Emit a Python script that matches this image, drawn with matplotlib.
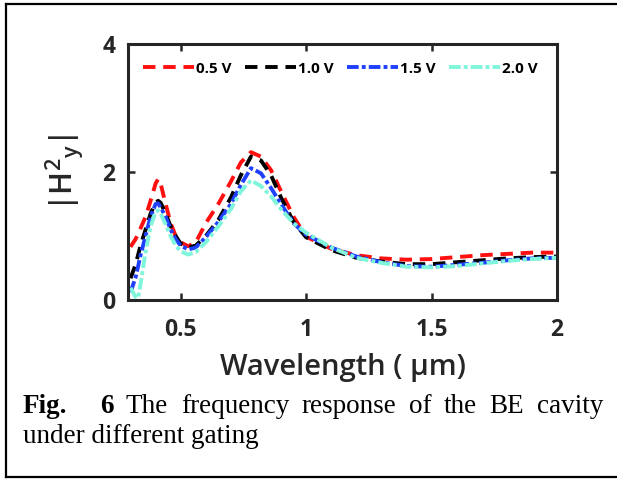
import matplotlib
matplotlib.use('Agg')
import matplotlib.pyplot as plt
from matplotlib.lines import Line2D

# wavelength in um
wavelength = [0.30, 0.32, 0.33, 0.34, 0.36, 0.38, 0.40, 0.41, 0.42, 0.44, 0.46, 0.48,
              0.50, 0.53, 0.56, 0.60, 0.65, 0.70, 0.74, 0.78, 0.82, 0.86, 0.90,
              0.95, 1.00, 1.10, 1.20, 1.30, 1.40, 1.50, 1.60, 1.70, 1.80, 1.90, 2.00]

h_05 = [0.83, 0.95, 1.03, 1.12, 1.30, 1.55, 1.82, 1.89, 1.82, 1.50, 1.20, 1.00,
        0.90, 0.84, 0.90, 1.20, 1.50, 1.85, 2.15, 2.31, 2.24, 2.03, 1.70,
        1.30, 0.99, 0.80, 0.70, 0.65, 0.63, 0.64, 0.67, 0.70, 0.72, 0.74, 0.74]
h_10 = [0.34, 0.55, 0.70, 0.85, 1.10, 1.35, 1.52, 1.55, 1.52, 1.35, 1.15, 1.00,
        0.88, 0.82, 0.85, 1.00, 1.25, 1.60, 1.95, 2.24, 2.18, 1.95, 1.60,
        1.22, 0.98, 0.78, 0.66, 0.60, 0.56, 0.56, 0.59, 0.62, 0.65, 0.67, 0.68]
h_15 = [0.12, 0.35, 0.52, 0.70, 1.00, 1.30, 1.50, 1.51, 1.45, 1.30, 1.10, 0.95,
        0.85, 0.79, 0.82, 0.98, 1.22, 1.50, 1.80, 2.06, 1.98, 1.75, 1.50,
        1.20, 1.02, 0.82, 0.68, 0.59, 0.53, 0.52, 0.55, 0.58, 0.62, 0.65, 0.66]
h_20 = [0.19, 0.05, 0.03, 0.25, 0.75, 1.15, 1.38, 1.40, 1.35, 1.18, 1.00, 0.85,
        0.76, 0.71, 0.75, 0.90, 1.15, 1.42, 1.70, 1.87, 1.78, 1.62, 1.42,
        1.20, 1.05, 0.82, 0.66, 0.58, 0.52, 0.51, 0.53, 0.57, 0.61, 0.64, 0.66]

labels = ['0.5 V', '1.0 V', '1.5 V', '2.0 V']
colors = ['#ff1010', '#000000', '#2040ff', '#7ff5dc']
styles = [(0, (3.2, 2.0)), (0, (3.2, 2.0)), (0, (3, 0.8, 1, 0.8)), (0, (3, 0.8, 1, 0.8))]

x_ticks = [0.5, 1, 1.5, 2]
x_tick_labels = ['0.5', '1', '1.5', '2']
y_ticks = [0, 2, 4]

W, H = 617, 479
DARK = '#262626'
font = 'Open Sans'

plt.rcParams['mathtext.fontset'] = 'custom'
plt.rcParams['mathtext.rm'] = 'Open Sans:semibold'

fig = plt.figure(figsize=(W / 100, H / 100), dpi=100)
ax = fig.add_axes([128 / W, 1 - 300 / H, 429 / W, 256 / H])

series = [h_05, h_10, h_15, h_20]
for vals, c, ls in zip(series, colors, styles):
    ax.plot(wavelength, vals, color=c, linestyle=ls, lw=2.8)

ax.set_xlim(0.29, 2.0)
ax.set_ylim(0, 4)
ax.set_xticks(x_ticks)
ax.set_xticklabels(x_tick_labels)
ax.set_yticks(y_ticks)

ax.tick_params(direction='in', length=5, width=1.8, color=DARK, top=True, right=True,
               labelsize=16.5, labelcolor=DARK)
ax.tick_params(axis='x', pad=13)
ax.tick_params(axis='y', pad=9)
for lab in ax.get_xticklabels() + ax.get_yticklabels():
    lab.set_fontfamily(font)
    lab.set_fontweight('bold')
for sp in ax.spines.values():
    sp.set_linewidth(2.2)
    sp.set_color(DARK)

ax.set_xlabel('Wavelength ( \u00b5m)', fontsize=21, family=font, fontweight='semibold',
              color=DARK, labelpad=8)
ax.set_ylabel(r'$|\mathrm{H}^{2}{}_{\mathrm{y}}|$', fontsize=22, color=DARK, labelpad=12)

handles = [Line2D([], [], color=c, linestyle=ls, lw=2.8) for c, ls in zip(colors, styles)]
ax.legend(handles, labels, loc='upper center', ncol=4, frameon=False,
          bbox_to_anchor=(0.495, 0.985), handlelength=3.3, handletextpad=0.15,
          columnspacing=0.9, prop={'family': font, 'weight': 'bold', 'size': 11})

# outer frame
frame_kw = dict(color='black', lw=1.6, transform=fig.transFigure)
fig.add_artist(Line2D([6 / W, 6 / W], [1 - 4 / H, 1 - 477 / H], **frame_kw))
fig.add_artist(Line2D([6 / W, 1], [1 - 4 / H, 1 - 4 / H], **frame_kw))
fig.add_artist(Line2D([6 / W, 1], [1 - 477 / H, 1 - 477 / H], **frame_kw))

# caption, first line justified between x=23 and x=603
cap_size = 19.5
words1 = [('Fig.', 'bold'), ('6', 'bold'), ('The', 'normal'), ('frequency', 'normal'),
          ('response', 'normal'), ('of', 'normal'), ('the', 'normal'), ('BE', 'normal'),
          ('cavity', 'normal')]
fig.canvas.draw()
renderer = fig.canvas.get_renderer()
texts = []
for w, wt in words1:
    t = fig.text(0, 1 - 413 / H, w, fontsize=cap_size, family='Liberation Serif',
                 fontweight=wt, color='black', va='baseline')
    texts.append(t)
widths = [t.get_window_extent(renderer).width for t in texts]
left, right = 23, 603
gap_weights = [2.6] + [1] * (len(texts) - 2)
gap = (right - left - sum(widths)) / sum(gap_weights)
x = left
for i, t in enumerate(texts):
    t.set_x(x / W)
    if i < len(gap_weights):
        x += widths[i] + gap * gap_weights[i]
fig.text(23 / W, 1 - 443 / H, 'under different gating', fontsize=cap_size,
         family='Liberation Serif', color='black', va='baseline')

fig.savefig('out.png', dpi=100)
